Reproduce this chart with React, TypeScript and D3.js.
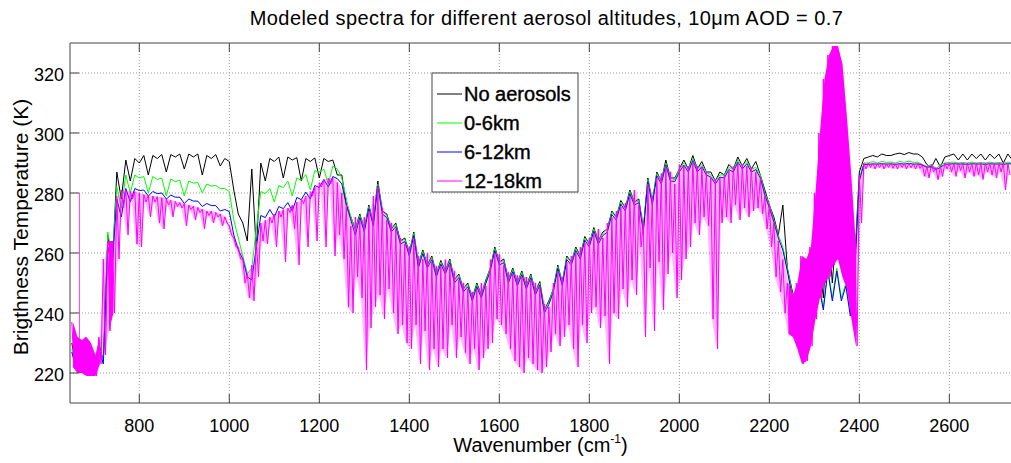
import React, { useEffect, useRef } from "react";
import * as d3 from "d3";

const wnFine = d3.range(650, 2731, 10);
const wnCoarse = d3.range(650, 2731, 20);

const xTicks = [800, 1000, 1200, 1400, 1600, 1800, 2000, 2200, 2400, 2600];
const yTicks = [220, 240, 260, 280, 300, 320];

// 12-18km : upper envelope and dip bottoms, every 10 cm-1
const magentaTop = [
  237, 232, 231, 232, 230, 226, 232, 258, 264, 264,
  279, 281, 281, 280.5, 280.5, 280, 279.5, 279.2, 279, 278.8,
  278.5, 278, 277.6, 277.2, 276.8, 276.4, 276, 275.6, 275.2, 274.6,
  274, 274, 273.5, 273, 272, 269, 265, 262, 258, 253,
  256, 264, 270, 271, 272, 273, 274, 274.5, 275, 276,
  277, 278, 279, 280.5, 282, 283.5, 284.5, 285, 285, 283.5,
  280, 276, 269, 272, 271, 272, 274, 279, 282, 275,
  271, 270, 268, 265, 263, 262, 265, 259, 258, 260,
  257, 255.6, 255.5, 257.8, 256, 254, 251, 250, 248, 247,
  248, 250, 249, 257.8, 260, 259.5, 256, 253.5, 253, 252.5,
  252, 252, 251, 250, 248.5, 243, 242, 250, 254, 252,
  257, 259, 260, 262, 263.5, 265, 266.5, 268, 265, 270,
  272, 274, 275.5, 276.7, 279, 281, 276, 270, 283, 279,
  285, 286.5, 289, 287, 283, 289.5, 289, 289, 290.5, 289,
  288.5, 287, 285, 284.5, 285, 286, 287.5, 289, 290, 289.5,
  289, 288.5, 287, 285, 279, 276, 270, 264, 257.8, 250,
  246, 250, 259, 258, 262, 280, 300, 318, 326, 329,
  329, 323, 305, 285, 262, 286, 290, 290, 290, 289.8,
  290, 289.8, 290, 289.8, 290, 289.8, 290, 289.8, 290, 289.5,
  289, 289.5, 288.5, 289, 290, 290, 290, 290, 290, 290,
  290, 290, 290, 290, 290, 290, 290, 290, 290,
];
const magentaLow = [
  222, 220, 220, 219, 219, 219, 223, 226, 234, 240,
  258, 275, 266, 278, 263, 262, 277, 272, 277, 270,
  268, 276, 272, 275.5, 275, 269, 274.5, 271, 273.5, 268,
  272.5, 270, 272, 269, 270, 266, 262, 258, 250, 245,
  244, 252, 264, 263, 270, 262, 272, 257, 273.5, 268,
  256, 276.5, 262, 279, 264, 282, 262, 283, 259, 266,
  258, 242, 240, 252, 245, 221, 235, 242, 246, 238,
  248, 240, 233, 236, 230, 228, 236, 223, 234, 221,
  228, 222, 228, 225, 236, 225, 232, 226.7, 223, 228,
  221, 225, 228, 230, 238, 236, 233, 228, 224, 222,
  220, 225, 223, 221, 220, 222, 227, 233, 229, 232,
  236, 228, 222, 236, 230, 240, 242, 235, 239, 223,
  240, 238, 248, 242, 251, 246, 262, 232, 255, 234,
  257, 241, 253, 260, 245, 251, 258, 262, 270, 266,
  272, 269, 238, 228, 270, 272, 270, 276, 271, 275,
  272, 274, 275, 273, 268, 262, 252, 247, 240, 233,
  232, 228, 223, 224, 229, 238, 245, 250, 252, 256,
  258, 252, 248, 238, 229, 270, 288, 288.5, 288, 288.5,
  288, 288.5, 288.2, 288, 288.5, 288, 288.4, 288, 288.2, 285.6,
  285, 287, 284.4, 285.5, 288, 287, 285.5, 287.5, 285, 287,
  285.5, 286, 284.5, 287, 286, 285, 287, 281, 286,
];
// isolated tall line of the 12-18km trace
const spikeWn = [667];
const spikeBase = [231];
const spikePeak = [280];
// where the 12-18km trace is a solid band in the picture
const magentaSolid = [[648, 712], [722, 748], [2235, 2392]];

// other traces, every 20 cm-1 (low = dip bottom 10 cm-1 further on)
const blackTop = [
  230, 229, 226, 230, 266, 287, 291, 291.5, 292.5, 292.5,
  292.8, 292.8, 293, 293, 293, 292.5, 292.8, 291.5, 281, 270,
  288, 290, 291.5, 292, 292, 291.8, 291.5, 291.7, 291.5, 291,
  286, 272, 273, 276, 284, 273, 270, 265, 267, 261,
  259, 257.5, 258, 253, 250, 250, 251, 262, 258, 255,
  254, 253, 250.5, 244, 256, 259, 262, 265.5, 268.5, 267,
  274, 277.5, 281, 278, 285, 287, 291, 285, 291, 292.5,
  290.5, 287, 287, 289.5, 292, 291.5, 290.5, 281, 272, 276,
  248, 243, 250, 260, 270, 270, 265, 258, 291.5, 292.5,
  293, 292.5, 293.3, 293.5, 293, 289.5, 291.5, 292, 293, 293,
  293, 293, 293, 293, 293,
];
const blackLow = [
  222, 221, 220, 224, 255, 278, 284, 290, 286, 291.5,
  287, 292, 288, 292, 286, 291.5, 289, 290.5, 273, 264,
  261, 284, 290.5, 285, 291, 284, 290.5, 285, 290.5, 286,
  276, 268, 268, 270, 274, 268, 264, 260, 256, 256,
  253, 254, 251, 248, 245, 246, 255, 257, 251, 250,
  249, 247, 241, 248, 250, 257, 259, 263, 264, 268,
  272, 275, 277, 268, 277, 284, 285, 288, 288, 288,
  287, 284, 286, 288, 289, 288, 286, 276, 266, 255,
  242, 238, 240, 245, 250, 255, 250, 287, 292, 292,
  292.5, 293, 292.8, 293, 292, 288.5, 288.7, 292.5, 291, 291,
  291.5, 291, 291.5, 290, 291,
];
const greenTop = [
  228, 227, 225, 229, 267, 282, 286, 286, 285.5, 285.5,
  285, 284.6, 284.3, 284, 283.5, 283, 282.5, 281.5, 271, 259,
  255, 280.5, 281.5, 282.5, 284, 285, 286.2, 287.5, 288, 289,
  285, 272, 272.5, 275.5, 283, 272.5, 269.5, 264.5, 266.5, 260.5,
  258.5, 257, 257.5, 252.5, 249.5, 249.5, 250.5, 261.5, 257.5, 254.5,
  253.5, 252.5, 250, 243.5, 255.5, 258.5, 261.5, 265, 268, 266.5,
  273.5, 277, 280.5, 277.5, 284.5, 286.5, 290, 284.5, 290, 291.5,
  289.5, 286, 286, 288.5, 291, 290.5, 288.5, 280, 271, 262,
  247, 240, 245, 250, 255, 255, 250, 256, 290, 290.5,
  290.5, 290.3, 290.5, 290.6, 290.3, 288.8, 288, 290, 290.3, 290.2,
  290.3, 290.2, 290.3, 290.2, 290.3,
];
const greenLow = [
  221, 220, 220, 224, 258, 275, 280, 285, 280, 284.5,
  279, 283.8, 279, 283.3, 280, 282.3, 281.5, 280.5, 265, 253,
  268, 279.8, 277, 281.8, 279, 284.2, 281, 286.8, 283, 288,
  278, 268, 268, 270, 274, 268, 264, 260, 256, 256,
  253, 254, 251, 248, 245, 246, 255, 257, 251, 250,
  249, 247, 241, 248, 250, 257, 259, 263, 264, 268,
  272, 275, 277, 268, 277, 284, 285, 288, 288, 288,
  287, 284, 286, 288, 289, 288, 286, 276, 266, 255,
  242, 236, 240, 242, 245, 245, 240, 285, 290, 290,
  290.2, 290, 290.2, 290.2, 289.5, 289.5, 289.5, 290.2, 290, 290,
  290, 290, 290, 290, 290,
];
const blueTop = [
  227, 226, 224, 228, 262, 278, 281.5, 281.5, 281, 280.5,
  280, 279.3, 278.6, 278, 277.3, 276.5, 275.8, 274.5, 266, 258,
  251, 272.5, 274.5, 275.5, 276.8, 278.5, 280.3, 282.5, 284.5, 285.5,
  283, 271, 271.8, 274.8, 282.3, 271.8, 268.8, 263.8, 265.8, 259.8,
  257.8, 256.3, 256.8, 251.8, 248.8, 248.8, 249.8, 260.8, 256.8, 253.8,
  252.8, 251.8, 249.3, 242.8, 254.8, 257.8, 260.8, 264.3, 267.3, 265.8,
  272.8, 276.3, 279.8, 276.8, 283.8, 285.8, 289.3, 283.8, 289.3, 290.8,
  288.8, 285.3, 285.3, 287.8, 290.3, 289.8, 287.8, 279.3, 270.3, 261,
  246, 239, 244, 249, 254, 254, 249, 254, 289.5, 289.7,
  289.8, 289.7, 289.8, 289.9, 289.7, 288.5, 287.8, 289.6, 289.8, 289.7,
  289.8, 289.7, 289.8, 289.7, 289.8,
];
const blueLow = [
  221, 220, 220, 223, 256, 272, 277, 280.8, 279, 279.8,
  278, 278.6, 276.5, 277.3, 275.5, 275.8, 274, 273.8, 261, 252,
  262, 271.8, 272, 274.8, 274, 277.8, 278, 281.8, 282, 284.8,
  276, 266, 267, 269, 273, 267, 263, 259, 255, 255,
  252, 253, 250, 247, 244, 245, 254, 256, 250, 249,
  248, 246, 240, 247, 249, 256, 258, 262, 263, 267,
  271, 274, 276, 267, 276, 283, 284, 287, 287, 287,
  286, 283, 285, 287, 288, 287, 285, 275, 265, 254,
  241, 235, 239, 241, 244, 244, 239, 284, 289.5, 289.6,
  289.6, 289.5, 289.6, 289.6, 289.3, 288.8, 288.5, 289.6, 289.6, 289.5,
  289.6, 289.5, 289.6, 289.5, 289.6,
];

const seriesNames = ["No aerosols", "0-6km", "6-12km", "12-18km"];
const seriesColors = ["#000000", "#00ff00", "#0000ff", "#ff00ff"];

const FONT = "'Liberation Sans', Arial, Helvetica, sans-serif";

const App = () => {
  const ref = useRef<SVGSVGElement>(null);

  useEffect(() => {
    const width = 1011;
    const height = 463;
    const margin = { top: 43, bottom: 60, left: 70, right: 0 };
    const x0 = margin.left;
    const x1 = width - margin.right;
    const y0 = height - margin.bottom;
    const y1 = margin.top;

    const svg = d3.select(ref.current).attr("width", width).attr("height", height);
    svg.selectAll("*").remove();

    const x = d3.scaleLinear().domain([646, 2737]).range([x0, x1]);
    const y = d3.scaleLinear().domain([210, 330]).range([y0, y1]);

    svg.append("rect").attr("width", width).attr("height", height).attr("fill", "#fff");

    svg
      .append("defs")
      .append("clipPath")
      .attr("id", "plot")
      .append("rect")
      .attr("x", x0)
      .attr("y", y1)
      .attr("width", x1 - x0)
      .attr("height", y0 - y1);

    // dotted grid
    const grid = svg.append("g").attr("stroke", "#9a9a9a").attr("stroke-dasharray", "1,2");
    xTicks.forEach((t) => {
      grid.append("line").attr("x1", x(t)).attr("x2", x(t)).attr("y1", y0).attr("y2", y1);
    });
    yTicks.forEach((t) => {
      grid.append("line").attr("x1", x0).attr("x2", x1).attr("y1", y(t)).attr("y2", y(t));
    });

    const plot = svg.append("g").attr("clip-path", "url(#plot)");

    const traces = [
      { wn: wnCoarse, top: blackTop, low: blackLow },
      { wn: wnCoarse, top: greenTop, low: greenLow },
      { wn: wnCoarse, top: blueTop, low: blueLow },
      { wn: wnFine, top: magentaTop, low: magentaLow },
    ];

    const zig = d3
      .line<[number, number]>()
      .x((d) => x(d[0]))
      .y((d) => y(d[1]));

    traces.forEach((tr, k) => {
      const half = (tr.wn[1] - tr.wn[0]) / 2;
      const color = seriesColors[k];
      if (k === 3) {
        const rows = tr.wn.map((w, i) => ({ w, t: tr.top[i], l: tr.low[i] }));
        const inSolid = (w: number) => magentaSolid.some(([a, b]) => w >= a && w <= b);
        const band = d3
          .area<{ w: number; t: number; l: number }>()
          .x((d) => x(d.w + half / 2))
          .y0((d) => y(d.l))
          .y1((d) => y(d.t));
        // pale fill between crests and dips, solid where the lines are too dense to separate
        plot.append("path").attr("d", band(rows)).attr("fill", color).attr("fill-opacity", 0.28);
        plot
          .append("path")
          .attr("d", band.defined((d) => inSolid(d.w))(rows))
          .attr("fill", color);
        spikeWn.forEach((w, i) => {
          plot
            .append("line")
            .attr("x1", x(w))
            .attr("x2", x(w))
            .attr("y1", y(spikeBase[i]))
            .attr("y2", y(spikePeak[i]))
            .attr("stroke", color)
            .attr("stroke-opacity", 0.75);
        });
      }
      const pts: [number, number][] = tr.wn.flatMap((w, i) => [
        [w, tr.top[i]] as [number, number],
        [w + half, tr.low[i]] as [number, number],
      ]);
      plot
        .append("path")
        .attr("d", zig(pts))
        .attr("fill", "none")
        .attr("stroke", color)
        .attr("stroke-width", 1);
    });

    // axes box with inward ticks
    const axis = svg.append("g").attr("stroke", "#444").attr("stroke-width", 1);
    axis.append("line").attr("x1", x0).attr("x2", x1).attr("y1", y0).attr("y2", y0);
    axis.append("line").attr("x1", x0).attr("x2", x1).attr("y1", y1).attr("y2", y1);
    axis.append("line").attr("x1", x0).attr("x2", x0).attr("y1", y0).attr("y2", y1);
    xTicks.forEach((t) => {
      axis.append("line").attr("x1", x(t)).attr("x2", x(t)).attr("y1", y0).attr("y2", y0 - 9);
      axis.append("line").attr("x1", x(t)).attr("x2", x(t)).attr("y1", y1).attr("y2", y1 + 9);
    });
    yTicks.forEach((t) => {
      axis.append("line").attr("x1", x0).attr("x2", x0 + 9).attr("y1", y(t)).attr("y2", y(t));
    });

    const txt = svg.append("g").attr("font-family", FONT).attr("fill", "#000");
    xTicks.forEach((t) => {
      txt
        .append("text")
        .attr("x", x(t))
        .attr("y", y0 + 29)
        .attr("text-anchor", "middle")
        .attr("font-size", 18)
        .text(t);
    });
    yTicks.forEach((t) => {
      txt
        .append("text")
        .attr("x", x0 - 6)
        .attr("y", y(t) + 8)
        .attr("text-anchor", "end")
        .attr("font-size", 18)
        .text(t);
    });

    txt
      .append("text")
      .attr("x", (x0 + x1) / 2 + 6)
      .attr("y", 25)
      .attr("text-anchor", "middle")
      .attr("font-size", 20)
      .attr("letter-spacing", 0.45)
      .text("Modeled spectra for different aerosol altitudes, 10\u03bcm AOD = 0.7");

    const xl = txt
      .append("text")
      .attr("x", (x0 + x1) / 2)
      .attr("y", 452)
      .attr("text-anchor", "middle")
      .attr("font-size", 20);
    xl.append("tspan").text("Wavenumber (cm");
    xl.append("tspan").attr("font-size", 12).attr("dy", -9).text("-1");
    xl.append("tspan").attr("dy", 9).text(")");

    txt
      .append("text")
      .attr("transform", `translate(28,${(y0 + y1) / 2 + 4}) rotate(-90)`)
      .attr("text-anchor", "middle")
      .attr("font-size", 21)
      .text("Brigthness Temperature (K)");

    // legend
    const lg = svg.append("g").attr("transform", "translate(432,73)");
    lg.append("rect")
      .attr("width", 146)
      .attr("height", 119)
      .attr("fill", "#fff")
      .attr("stroke", "#444");
    seriesNames.forEach((name, i) => {
      const cy = 21 + i * 29;
      lg.append("line")
        .attr("x1", 5)
        .attr("x2", 30)
        .attr("y1", cy)
        .attr("y2", cy)
        .attr("stroke", seriesColors[i]);
      lg.append("text")
        .attr("x", 32)
        .attr("y", cy + 7)
        .attr("font-family", FONT)
        .attr("font-size", 20)
        .attr("stroke", "#000")
        .attr("stroke-width", 0.4)
        .text(name);
    });
  }, []);

  return (
    <div style={{ position: "absolute", left: 0, top: 0 }}>
      <svg ref={ref}></svg>
    </div>
  );
};

export default App;
